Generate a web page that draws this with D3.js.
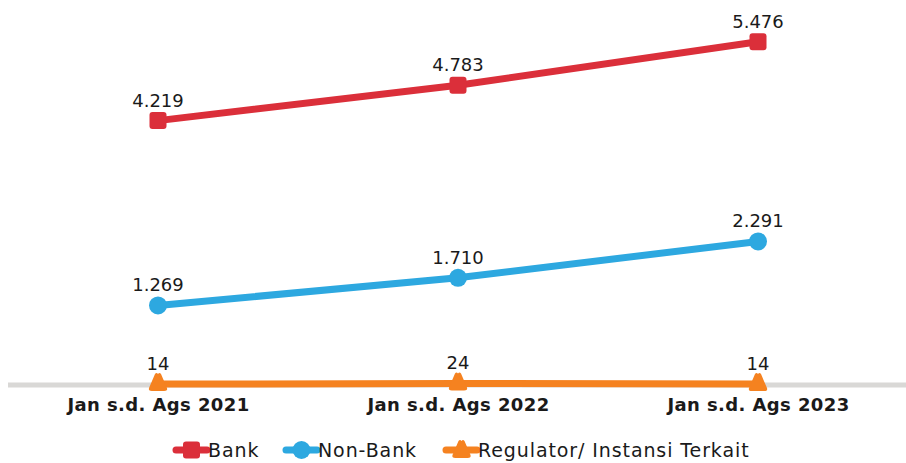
<!DOCTYPE html>
<html><head><meta charset="utf-8">
<script src="https://cdn.jsdelivr.net/npm/d3@7/dist/d3.min.js"></script>
<style>body{margin:0;background:#fff;}svg{display:block;}text{font-family:"DejaVu Sans",sans-serif;}</style>
</head><body>
<svg id="c" width="906" height="463"></svg>
<script>
const categories = ["Jan s.d. Ags 2021", "Jan s.d. Ags 2022", "Jan s.d. Ags 2023"];
const seriesNames = ["Bank", "Non-Bank", "Regulator/ Instansi Terkait"];
const bankValues = [4219, 4783, 5476];
const nonBankValues = [1269, 1710, 2291];
const regulatorValues = [14, 24, 14];
const valueLabels = [["4.219","4.783","5.476"],["1.269","1.710","2.291"],["14","24","14"]];
const colors = ["#DB2F3A", "#2DA8E0", "#F58220"];

const svg = d3.select("#c");
const x = d3.scalePoint().domain(categories).range([8, 908]).padding(0.5);
const y = d3.scaleLinear().domain([0, 6000]).range([385, 9]);

svg.append("line").attr("x1", 8).attr("x2", 906).attr("y1", y(0)).attr("y2", y(0))
  .attr("stroke", "#D9D8D6").attr("stroke-width", 5);

const xAxis = svg.append("g").attr("transform", `translate(0,${y(0)})`)
  .call(d3.axisBottom(x).tickSize(0).tickPadding(0));
xAxis.select(".domain").remove();
xAxis.selectAll("text").attr("dy", null).attr("y", 26).attr("font-size", 18).attr("font-weight", "bold")
  .attr("letter-spacing", 0.4).attr("fill", "#1a1a1a")
  .style("font-family", '"DejaVu Sans",sans-serif');

const series = [bankValues, nonBankValues, regulatorValues];
const line = d3.line().x((d, i) => x(categories[i])).y(d => y(d));

const triPath = "M0,-9 Q1.5,-11 3,-9 L9,5 Q10,8 6,8 L-6,8 Q-10,8 -9,5 L-3,-9 Q-1.5,-11 0,-9Z";

function drawMarker(g, k, cx, cy) {
  if (k === 0) {
    g.append("rect").attr("x", cx - 8.5).attr("y", cy - 8.5).attr("width", 17).attr("height", 17)
      .attr("rx", 3).attr("fill", colors[k]);
  } else if (k === 1) {
    g.append("circle").attr("cx", cx).attr("cy", cy).attr("r", 9).attr("fill", colors[k]);
  } else {
    g.append("path").attr("d", triPath).attr("transform", `translate(${cx},${cy})`).attr("fill", colors[k]);
  }
}

series.forEach((vals, k) => {
  svg.append("path").datum(vals).attr("d", line).attr("fill", "none")
    .attr("stroke", colors[k]).attr("stroke-width", 7);
  const g = svg.append("g");
  vals.forEach((v, i) => {
    drawMarker(g, k, x(categories[i]), y(v) - (k === 2 ? 1 : 0));
    svg.append("text").attr("x", x(categories[i])).attr("y", y(v) - 14)
      .attr("text-anchor", "middle").attr("font-size", 18).attr("fill", "#1a1a1a")
      .text(valueLabels[k][i]);
  });
});

const legendX = [176, 286, 446];
seriesNames.forEach((name, k) => {
  const lg = svg.append("g");
  const lx = legendX[k], ly = 450;
  lg.append("line").attr("x1", lx).attr("x2", lx + 31).attr("y1", ly).attr("y2", ly)
    .attr("stroke", colors[k]).attr("stroke-width", 7).attr("stroke-linecap", "round");
  drawMarker(lg, k, lx + 15.5, ly);
  lg.append("text").attr("x", lx + 32).attr("y", ly + 6.5).attr("font-size", 19)
    .attr("letter-spacing", 0.9).attr("fill", "#1a1a1a").text(name);
});
</script>
</body></html>
